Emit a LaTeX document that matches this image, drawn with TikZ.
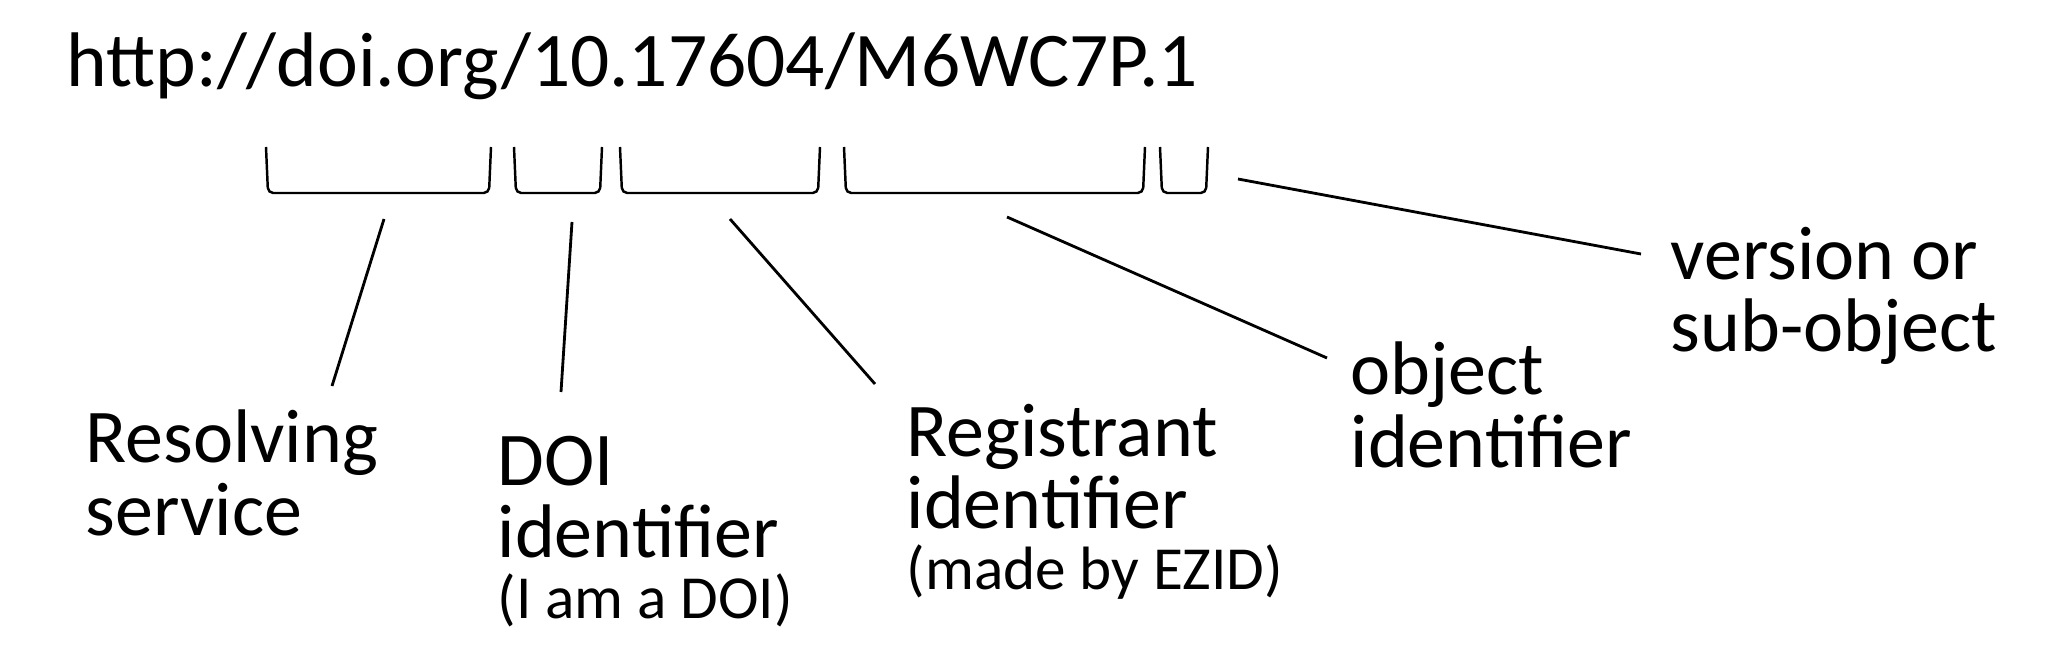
\documentclass[tikz,border=0pt]{standalone}
\usepackage{fontspec}
\setmainfont{Carlito}
\usetikzlibrary{positioning}

\begin{document}
\begin{tikzpicture}[x=0.01cm, y=-0.01cm,
    lbl/.style={anchor=base west, inner sep=0pt, align=left, font=\fontsize{21.6}{20.6}\selectfont},
    brk/.style={line width=0.7pt, rounded corners=1.5pt},
    lead/.style={line width=0.8pt}]
  \useasboundingbox (0,0) rectangle (2072,670);
  \node[lbl, font=\fontsize{22}{22}\selectfont] (url) at (66,87) {http://doi.org/10.17604/M6WC7P.1};
  % brackets under the parts of the name
  \foreach \a/\b in {266/491, 514/602, 620/820, 844/1145, 1160/1208}
    \draw[brk] (\a,147) -- (\a+2,193) -- (\b-2,193) -- (\b,147);
  % labels (placed at the baseline of their last line)
  \node[lbl] (res) at (85,535) {Resolving\\service};
  \node[lbl] (doi) at (497,618) {DOI\\identifier\\[-3.4pt]{\fontsize{17.4}{17}\selectfont (I am a DOI)}};
  \node[lbl] (reg) at (906,589) {Registrant\\identifier\\[-3.4pt]{\fontsize{17.4}{17}\selectfont (made by EZID)}};
  \node[lbl] (obj) at (1350,467) {object\\identifier};
  \node[lbl] (ver) at (1670,352) {version or\\sub-object};
  % leader lines
  \coordinate (resA) at (384,219); \coordinate (resB) at (332,386);
  \coordinate (doiA) at (572,222); \coordinate (doiB) at (561,392);
  \coordinate (regA) at (730,219); \coordinate (regB) at (875,384);
  \coordinate (objA) at (1007,217); \coordinate (objB) at (1327,358);
  \coordinate (verA) at (1238,179); \coordinate (verB) at (1641,254);
  \draw[lead] (resA) -- (resB);
  \draw[lead] (doiA) -- (doiB);
  \draw[lead] (regA) -- (regB);
  \draw[lead] (objA) -- (objB);
  \draw[lead] (verA) -- (verB);
\end{tikzpicture}
\end{document}
